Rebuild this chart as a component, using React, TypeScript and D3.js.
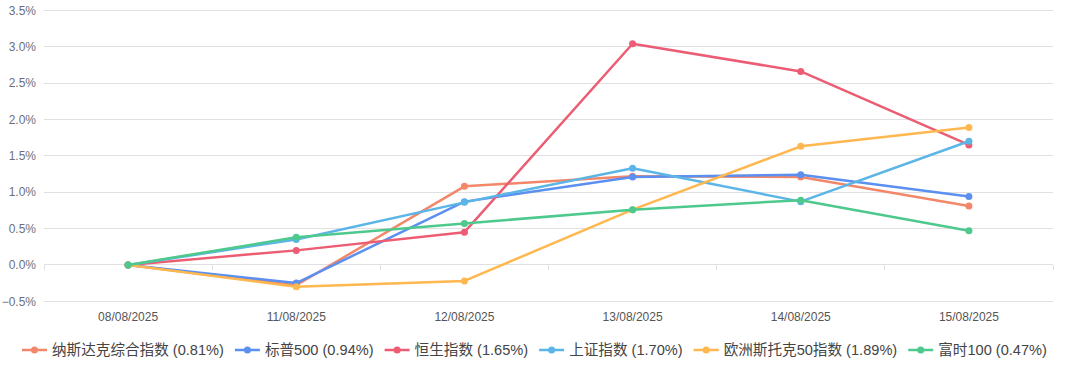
import React, { useEffect, useRef } from "react";
import * as d3 from "d3";

const categories = ["08/08/2025", "11/08/2025", "12/08/2025", "13/08/2025", "14/08/2025", "15/08/2025"];
const yTicks = [-0.5, 0, 0.5, 1.0, 1.5, 2.0, 2.5, 3.0, 3.5];

const seriesNames = ["纳斯达克综合指数", "标普500", "恒生指数", "上证指数", "欧洲斯托克50指数", "富时100"];
const seriesColors = ["#f2876a", "#5b8ff0", "#ec5d73", "#5bb5e6", "#ffb74f", "#4ec98e"];

const nasdaq = [0, -0.28, 1.08, 1.22, 1.21, 0.81];
const sp500 = [0, -0.25, 0.87, 1.21, 1.24, 0.94];
const hangseng = [0, 0.2, 0.45, 3.04, 2.66, 1.65];
const shanghai = [0, 0.35, 0.86, 1.33, 0.87, 1.7];
const stoxx50 = [0, -0.3, -0.22, 0.76, 1.63, 1.89];
const ftse100 = [0, 0.38, 0.57, 0.76, 0.89, 0.47];

const seriesValues = [nasdaq, sp500, hangseng, shanghai, stoxx50, ftse100];

const W = 1080;
const H = 379;
const FONT = "'Liberation Sans', 'Noto Sans CJK SC', sans-serif";

export default function App() {
  const ref = useRef<SVGSVGElement>(null);

  useEffect(() => {
    const svg = d3.select(ref.current);
    svg.selectAll("*").remove();

    const x = d3.scaleBand<string>().domain(categories).range([44, 1053]).padding(0);
    const y = d3.scaleLinear().domain([-0.5, 3.5]).range([301.3, 10.3]);
    const cx = (c: string) => (x(c) as number) + x.bandwidth() / 2;

    // grid lines
    svg
      .append("g")
      .selectAll("line")
      .data(yTicks)
      .join("line")
      .attr("x1", 44)
      .attr("x2", 1053)
      .attr("y1", (d) => y(d))
      .attr("y2", (d) => y(d))
      .attr("stroke", "#e0e0e0")
      .attr("stroke-width", 1)
      .attr("shape-rendering", "crispEdges");

    // y labels
    svg
      .append("g")
      .selectAll("text")
      .data(yTicks)
      .join("text")
      .attr("x", 36)
      .attr("y", (d) => y(d))
      .attr("dy", "0.35em")
      .attr("text-anchor", "end")
      .attr("font-family", FONT)
      .attr("font-size", 12)
      .attr("fill", "#6e7079")
      .text((d) => d3.format(".1f")(d) + "%");

    // x axis ticks at zero line
    const bounds = categories.map((c) => x(c) as number).concat([1053]);
    svg
      .append("g")
      .selectAll("line")
      .data(bounds)
      .join("line")
      .attr("x1", (d) => d)
      .attr("x2", (d) => d)
      .attr("y1", y(0))
      .attr("y2", y(0) + 5)
      .attr("stroke", "#e0e0e0")
      .attr("stroke-width", 1)
      .attr("shape-rendering", "crispEdges");

    // x labels
    svg
      .append("g")
      .selectAll("text")
      .data(categories)
      .join("text")
      .attr("x", (d) => cx(d))
      .attr("y", 317)
      .attr("dy", "0.35em")
      .attr("text-anchor", "middle")
      .attr("font-family", FONT)
      .attr("font-size", 12)
      .attr("fill", "#555")
      .text((d) => d);

    // lines
    const line = d3
      .line<number>()
      .x((_, i) => cx(categories[i]))
      .y((d) => y(d));

    seriesValues.forEach((vals, si) => {
      const g = svg.append("g");
      g.append("path")
        .attr("d", line(vals) as string)
        .attr("fill", "none")
        .attr("stroke", seriesColors[si])
        .attr("stroke-width", 2.5)
        .attr("stroke-linejoin", "round");
      g.selectAll("circle")
        .data(vals)
        .join("circle")
        .attr("cx", (_, i) => cx(categories[i]))
        .attr("cy", (d) => y(d))
        .attr("r", 3.5)
        .attr("fill", seriesColors[si]);
    });

    // legend
    const legend = svg.append("g");
    let lx = 22;
    const ly = 350;
    seriesNames.forEach((name, si) => {
      const pct = seriesValues[si][seriesValues[si].length - 1];
      const label = `${name} (${pct.toFixed(2)}%)`;
      const g = legend.append("g");
      g.append("line")
        .attr("x1", lx)
        .attr("x2", lx + 25)
        .attr("y1", ly)
        .attr("y2", ly)
        .attr("stroke", seriesColors[si])
        .attr("stroke-width", 2.5);
      g.append("circle")
        .attr("cx", lx + 12.5)
        .attr("cy", ly)
        .attr("r", 3.5)
        .attr("fill", seriesColors[si]);
      const t = g
        .append("text")
        .attr("x", lx + 30)
        .attr("y", ly)
        .attr("dy", "0.35em")
        .attr("font-family", FONT)
        .attr("font-size", 14.6)
        .attr("fill", "#444")
        .text(label);
      const w = (t.node() as SVGTextElement).getComputedTextLength();
      lx = lx + 30 + w + 11;
    });
  }, []);

  return (
    <svg
      ref={ref}
      width={W}
      height={H}
      style={{ position: "absolute", left: 0, top: 0, background: "#fff" }}
    />
  );
}
